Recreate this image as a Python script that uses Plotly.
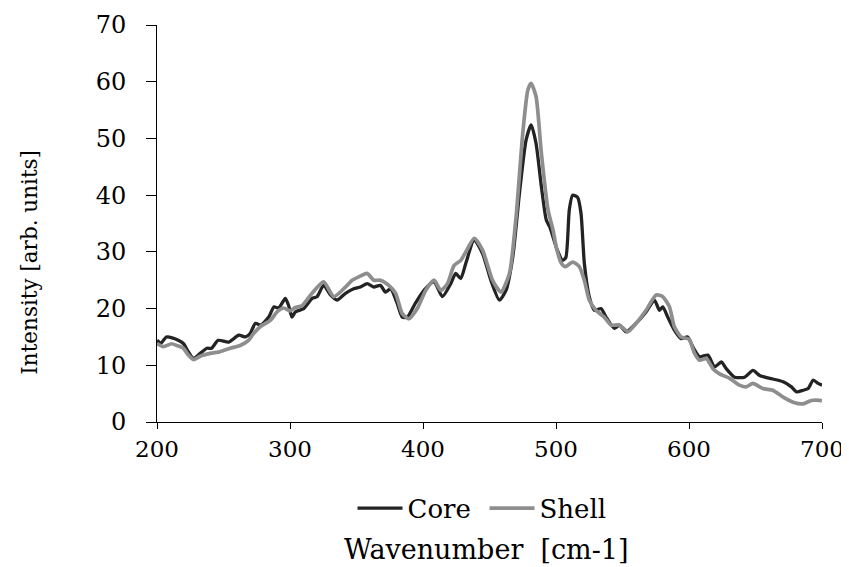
import plotly.graph_objects as go

core_x = [200, 203, 207, 212, 216, 220, 223, 227.5, 232.5, 237.5, 241, 246, 254, 261.5, 266.5, 270, 274, 278,
          284, 288, 291.5, 296.5, 299, 301.5, 304, 310.3, 316.6, 320.3, 325.3, 330.4, 335.4, 341.7, 347.9, 353,
          358, 363, 368, 371.8, 375.6, 380.6, 384.4, 388.2, 394.4, 401, 408.3, 414.6, 420.9, 424.6, 428.4, 432.2,
          438.5, 444.8, 451, 457.4, 462.4, 467.5, 472.5, 477.5, 481.3, 485, 489, 492.7, 495.3, 501, 505, 507.4,
          510, 512.5, 516.3, 518.8, 521.3, 525, 528.8, 533.8, 537.6, 543.9, 547.6, 552.7, 560.2, 567.7, 574,
          577.8, 580.3, 584, 589, 594, 599, 603, 608, 614.2, 619.2, 624.3, 628, 634.3, 641.8, 648.1, 653.1,
          660.7, 670.8, 677, 680.8, 685.8, 689.6, 693.4, 697.1, 700]
core_y = [14.4, 13.9, 15.0, 14.8, 14.4, 13.8, 12.6, 11.2, 12.1, 13.0, 13.0, 14.4, 14.1, 15.3, 15.0, 15.6, 17.4, 17.1,
          18.5, 20.3, 20.1, 21.8, 20.5, 18.5, 19.4, 20.0, 21.8, 22.1, 24.1, 22.4, 21.5, 22.7, 23.5, 23.8,
          24.4, 23.8, 24.1, 22.9, 23.5, 20.9, 18.5, 18.5, 21.0, 23.3, 24.7, 22.1, 24.4, 26.2, 25.3, 28.0,
          32.1, 29.7, 25.0, 21.5, 23.2, 29.1, 40.3, 49.7, 52.4, 49.1, 41.5, 35.6, 34.4, 30.3, 28.5, 29.0,
          37.4, 40.0, 39.6, 36.8, 28.0, 22.1, 19.7, 20.0, 18.5, 16.5, 17.1, 15.9, 17.4, 19.4, 21.5,
          19.7, 20.3, 18.5, 16.2, 14.7, 15.0, 13.2, 11.5, 11.8, 9.7, 10.6, 9.4, 7.9, 7.9, 9.1, 8.2,
          7.7, 7.1, 6.2, 5.3, 5.6, 5.9, 7.4, 6.8, 6.5]

shell_x = [200, 204.8, 211, 214.8, 219.8, 223.6, 227.4, 232.4, 240, 247.5, 255, 262.5, 268.8, 272.6, 277.6,
           285.2, 290.2, 295.2, 300, 304, 309, 316.6, 325.3, 332.9, 341.7, 346.7, 351.7, 358, 363, 368, 374.3,
           379.4, 384.4, 389.4, 395.7, 402, 408.3, 413.4, 418.4, 423.4, 428.4, 432.2, 438.5, 444.8, 452.3,
           458.6, 465, 470, 475, 478.8, 481.3, 485, 489, 494, 497.8, 500.5, 504, 507, 512.5, 517.5, 521.3,
           525, 530, 536.3, 541.4, 547.6, 554, 560.2, 567.7, 575.3, 580.3, 585.3, 589, 594, 600, 604, 608,
           613, 618, 623, 630.6, 638, 643, 648, 655.6, 663, 670.8, 678.3, 685.8, 692, 698.4, 700]
shell_y = [13.8, 13.3, 13.8, 13.5, 13.0, 11.8, 11.0, 11.6, 12.1, 12.4, 13.0, 13.5, 14.4, 15.6, 16.8,
           17.9, 19.4, 20.1, 19.6, 20.2, 20.5, 22.7, 24.7, 22.1, 23.8, 25.0, 25.6, 26.2, 25.0, 25.0, 24.1,
           22.7, 19.1, 18.2, 20.0, 23.2, 25.0, 23.2, 24.4, 27.6, 28.5, 30.0, 32.4, 30.3, 25.0,
           22.9, 26.2, 36.2, 50.9, 58.5, 59.7, 57.4, 47.4, 37.4, 33.8, 30.5, 28.0, 27.4, 28.2, 27.4, 25.0,
           21.5, 19.7, 18.5, 17.1, 17.1, 15.9, 17.4, 19.7, 22.4, 22.1, 20.3, 16.8, 15.0, 14.6, 12.2, 10.9,
           11.2, 9.4, 8.5, 7.7, 6.5, 6.2, 6.8, 5.9, 5.6, 4.4, 3.5, 3.2, 3.8, 3.8, 3.7]

x_ticks = [200, 300, 400, 500, 600, 700]
y_ticks = [0, 10, 20, 30, 40, 50, 60, 70]

FONT = "DejaVu Serif"

fig = go.Figure()
fig.add_trace(go.Scatter(x=core_x, y=core_y, mode="lines", name="Core",
                         line=dict(color="#232323", width=3.3, shape="spline", smoothing=0.6)))
fig.add_trace(go.Scatter(x=shell_x, y=shell_y, mode="lines", name="Shell",
                         line=dict(color="#8e8e8e", width=3.7, shape="spline", smoothing=0.6)))

fig.update_layout(
    width=841, height=559,
    margin=dict(l=149, r=27, t=17, b=145, autoexpand=False),
    paper_bgcolor="white", plot_bgcolor="white",
    font=dict(family=FONT, size=24, color="black"),
    showlegend=True,
    legend=dict(orientation="h", x=0.4925, xanchor="center", y=-0.217, yanchor="middle",
                font=dict(family=FONT, size=26, color="black"), itemwidth=45,
                entrywidth=72, entrywidthmode="pixels",
                bgcolor="rgba(0,0,0,0)"),
    xaxis=dict(range=[200, 700], tickvals=x_ticks, ticktext=[str(v) for v in x_ticks],
               showgrid=False, zeroline=False, showline=True, linecolor="black", linewidth=1,
               ticks="outside", ticklen=6, tickcolor="black", tickwidth=1,
               tickfont=dict(family=FONT, size=23, color="black")),
    yaxis=dict(range=[0, 70], tickvals=y_ticks, ticktext=[str(v) for v in y_ticks],
               showgrid=False, zeroline=False, showline=True, linecolor="black", linewidth=1,
               ticks="outside", ticklen=10, tickcolor="black", tickwidth=1,
               ticklabelstandoff=15,
               tickfont=dict(family=FONT, size=24, color="black")),
    annotations=[
        dict(text="Intensity [arb. units]", textangle=-90, xref="paper", yref="paper",
             x=-0.193, y=0.403, xanchor="center", yanchor="middle", showarrow=False,
             font=dict(family=FONT, size=21.5, color="black")),
        dict(text="Wavenumber\u00a0 [cm-1]", xref="paper", yref="paper",
             x=0.496, y=-0.322, xanchor="center", yanchor="middle", showarrow=False,
             font=dict(family=FONT, size=27, color="black")),
    ],
)

fig.write_html("out.html")
